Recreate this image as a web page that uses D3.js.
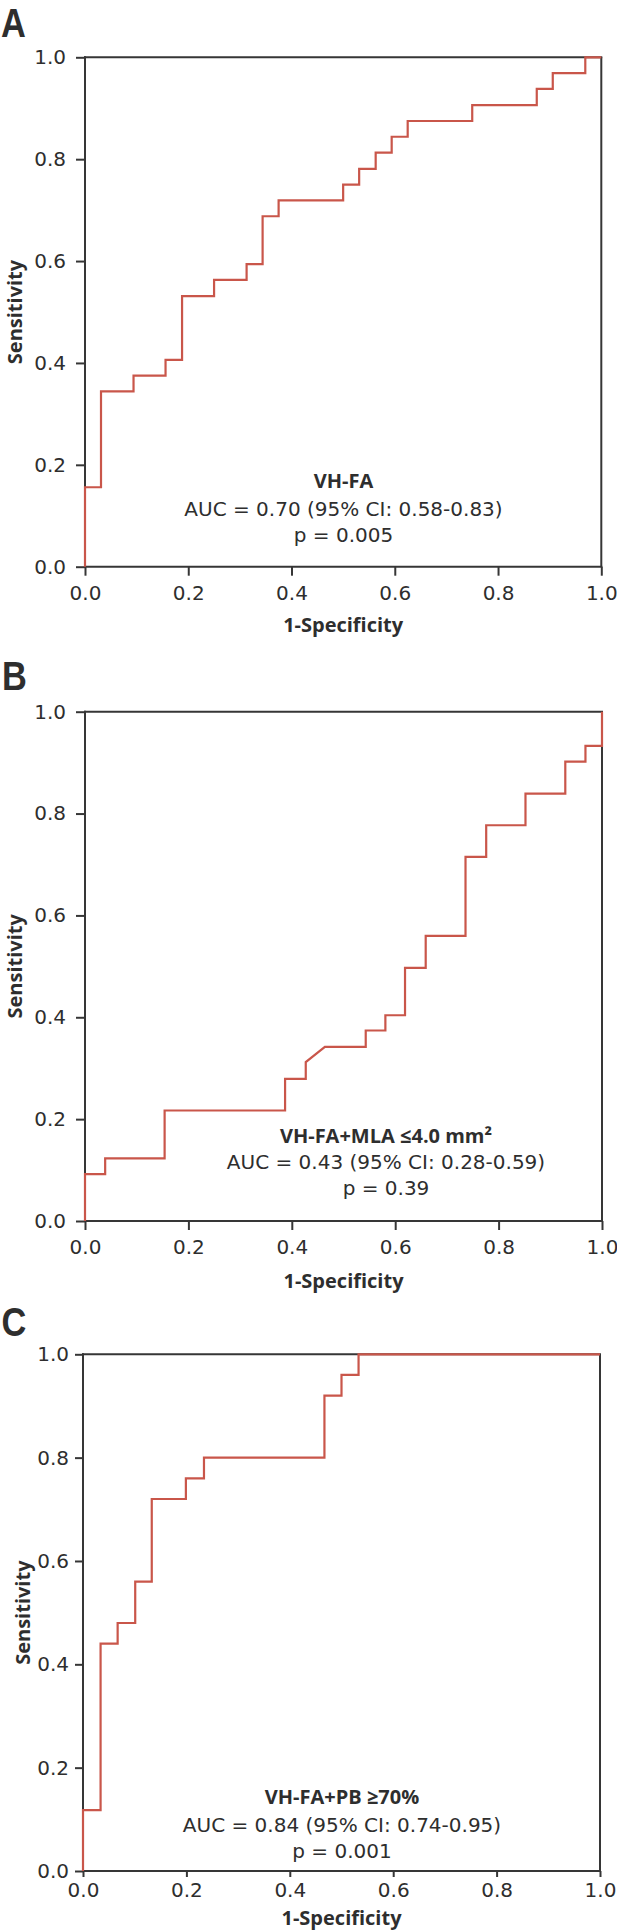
<!DOCTYPE html>
<html><head><meta charset="utf-8">
<script src="https://cdn.jsdelivr.net/npm/d3@7"></script>
<style>
html,body{margin:0;padding:0;background:#fff;}
svg{display:block;}
</style></head>
<body>
<script>
// ---------- DATA ----------
const xTicks = [0, 0.2, 0.4, 0.6, 0.8, 1.0];
const yTicks = [0, 0.2, 0.4, 0.6, 0.8, 1.0];
const panelLabels = ["A", "B", "C"];
const xTitle = "1-Specificity";
const yTitle = "Sensitivity";

// Panel A: VH-FA ROC points (1-specificity, sensitivity)
const fprA = [0,0,0.031,0.031,0.094,0.094,0.156,0.156,0.188,0.188,0.25,0.25,0.313,0.313,0.344,0.344,0.375,0.375,0.5,0.5,0.531,0.531,0.563,0.563,0.594,0.594,0.625,0.625,0.75,0.75,0.875,0.875,0.906,0.906,0.969,0.969,1];
const tprA = [0,0.156,0.156,0.344,0.344,0.375,0.375,0.406,0.406,0.531,0.531,0.563,0.563,0.594,0.594,0.688,0.688,0.719,0.719,0.75,0.75,0.781,0.781,0.813,0.813,0.844,0.844,0.875,0.875,0.906,0.906,0.938,0.938,0.969,0.969,1,1];
const annA = ["VH-FA", "AUC = 0.70 (95% CI: 0.58-0.83)", "p = 0.005"];

// Panel B: VH-FA+MLA ≤4.0 mm²
const fprB = [0,0,0.039,0.039,0.154,0.154,0.387,0.387,0.427,0.427,0.464,0.543,0.543,0.581,0.581,0.619,0.619,0.659,0.659,0.736,0.736,0.776,0.776,0.852,0.852,0.929,0.929,0.968,0.968,1,1];
const tprB = [0,0.092,0.092,0.123,0.123,0.217,0.217,0.279,0.279,0.312,0.342,0.342,0.374,0.374,0.404,0.404,0.497,0.497,0.56,0.56,0.715,0.715,0.777,0.777,0.839,0.839,0.902,0.902,0.933,0.933,1];
const annB = ["VH-FA+MLA ≤4.0 mm²", "AUC = 0.43 (95% CI: 0.28-0.59)", "p = 0.39"];

// Panel C: VH-FA+PB ≥70%
const fprC = [0,0,0.034,0.034,0.067,0.067,0.101,0.101,0.133,0.133,0.199,0.199,0.234,0.234,0.467,0.467,0.5,0.5,0.533,0.533,1];
const tprC = [0,0.118,0.118,0.44,0.44,0.48,0.48,0.56,0.56,0.72,0.72,0.76,0.76,0.8,0.8,0.92,0.92,0.96,0.96,1,1];
const annC = ["VH-FA+PB ≥70%", "AUC = 0.84 (95% CI: 0.74-0.95)", "p = 0.001"];

// ---------- LAYOUT / STYLE ----------
const W = 617, H = 1932;
const frameColor = "#363636", textColor = "#2e2e2e", curveColor = "#c9564a";
const regFont = "'DejaVu Sans', sans-serif";
const boldFont = "'Open Sans', sans-serif";
const letterFont = "'Liberation Sans', Arial, sans-serif";

const layout = [
  {lx:1, ly:36.5, x0:85, x1:601.3, yb:566.7, yt:57.3, xtick:9, xpad:10, ytick:9, ypad:10,
   annX:343.5, annY:[488.3,516,541.7], yTx:21.5, xTy:632},
  {lx:2, ly:690, x0:85, x1:602, yb:1221, yt:711.7, xtick:9, xpad:10, ytick:9, ypad:10,
   annX:386, annY:[1143.3,1169.3,1195], yTx:21.5, xTy:1288.3},
  {lx:1.5, ly:1336, x0:83, x1:600, yb:1871, yt:1354.3, xtick:6, xpad:6, ytick:8, ypad:6,
   annX:342, annY:[1804,1831.7,1858.3], yTx:29.5, xTy:1925}
];
const series = [[fprA,tprA,annA],[fprB,tprB,annB],[fprC,tprC,annC]];

const svg = d3.select("body").append("svg").attr("width", W).attr("height", H)
  .attr("viewBox", `0 0 ${W} ${H}`);

layout.forEach((L, i) => {
  const [fpr, tpr, ann] = series[i];
  const x = d3.scaleLinear().domain([0,1]).range([L.x0, L.x1]);
  const y = d3.scaleLinear().domain([0,1]).range([L.yb, L.yt]);
  const g = svg.append("g");

  // panel letter
  g.append("text").attr("x", 0).attr("y", 0)
    .attr("transform", `translate(${L.lx},${L.ly}) scale(0.86,1)`)
    .attr("font-family", letterFont).attr("font-weight", 700).attr("font-size", 40)
    .attr("fill", textColor).text(panelLabels[i]);

  // axes
  const xa = g.append("g").attr("transform", `translate(0,${L.yb})`)
    .call(d3.axisBottom(x).tickValues(xTicks).tickFormat(d3.format(".1f"))
      .tickSizeInner(L.xtick).tickSizeOuter(0).tickPadding(L.xpad));
  const ya = g.append("g").attr("transform", `translate(${L.x0},0)`)
    .call(d3.axisLeft(y).tickValues(yTicks).tickFormat(d3.format(".1f"))
      .tickSizeInner(L.ytick).tickSizeOuter(0).tickPadding(L.ypad));
  [xa, ya].forEach(a => {
    a.select(".domain").attr("stroke", frameColor).attr("stroke-width", 2);
    a.selectAll(".tick line").attr("stroke", frameColor).attr("stroke-width", 2);
    a.selectAll(".tick text").attr("fill", textColor).attr("font-family", regFont).attr("font-size", 20);
  });
  xa.select(".domain").attr("d", `M${L.x0-1},0H${L.x1+1}`);
  ya.select(".domain").attr("d", `M0,${L.yb+1}V${L.yt-1}`);

  // top and right border
  g.append("line").attr("x1", x(0)-1).attr("x2", x(1)+1).attr("y1", y(1)).attr("y2", y(1))
    .attr("stroke", frameColor).attr("stroke-width", 2);
  g.append("line").attr("x1", x(1)).attr("x2", x(1)).attr("y1", y(1)).attr("y2", y(0))
    .attr("stroke", frameColor).attr("stroke-width", 2);

  // ROC curve
  const pts = fpr.map((v, k) => [v, tpr[k]]);
  g.append("path").datum(pts)
    .attr("d", d3.line().x(d => x(d[0])).y(d => y(d[1])))
    .attr("fill", "none").attr("stroke", curveColor).attr("stroke-width", 2.2)
    .attr("stroke-linejoin", "miter");

  // annotation
  ann.forEach((t, k) => {
    g.append("text").attr("x", L.annX).attr("y", L.annY[k]).attr("text-anchor", "middle")
      .attr("font-family", k === 0 ? boldFont : regFont)
      .attr("font-weight", k === 0 ? 700 : 400)
      .attr("font-size", 20).attr("fill", textColor).text(t);
  });

  // axis titles
  g.append("text").attr("x", (L.x0 + L.x1) / 2).attr("y", L.xTy).attr("text-anchor", "middle")
    .attr("font-family", boldFont).attr("font-weight", 700).attr("font-size", 20)
    .attr("fill", textColor).text(xTitle);
  g.append("text").attr("transform", `translate(${L.yTx},${(L.yb + L.yt) / 2}) rotate(-90)`)
    .attr("text-anchor", "middle")
    .attr("font-family", boldFont).attr("font-weight", 700).attr("font-size", 20)
    .attr("fill", textColor).text(yTitle);
});
</script>
</body></html>
